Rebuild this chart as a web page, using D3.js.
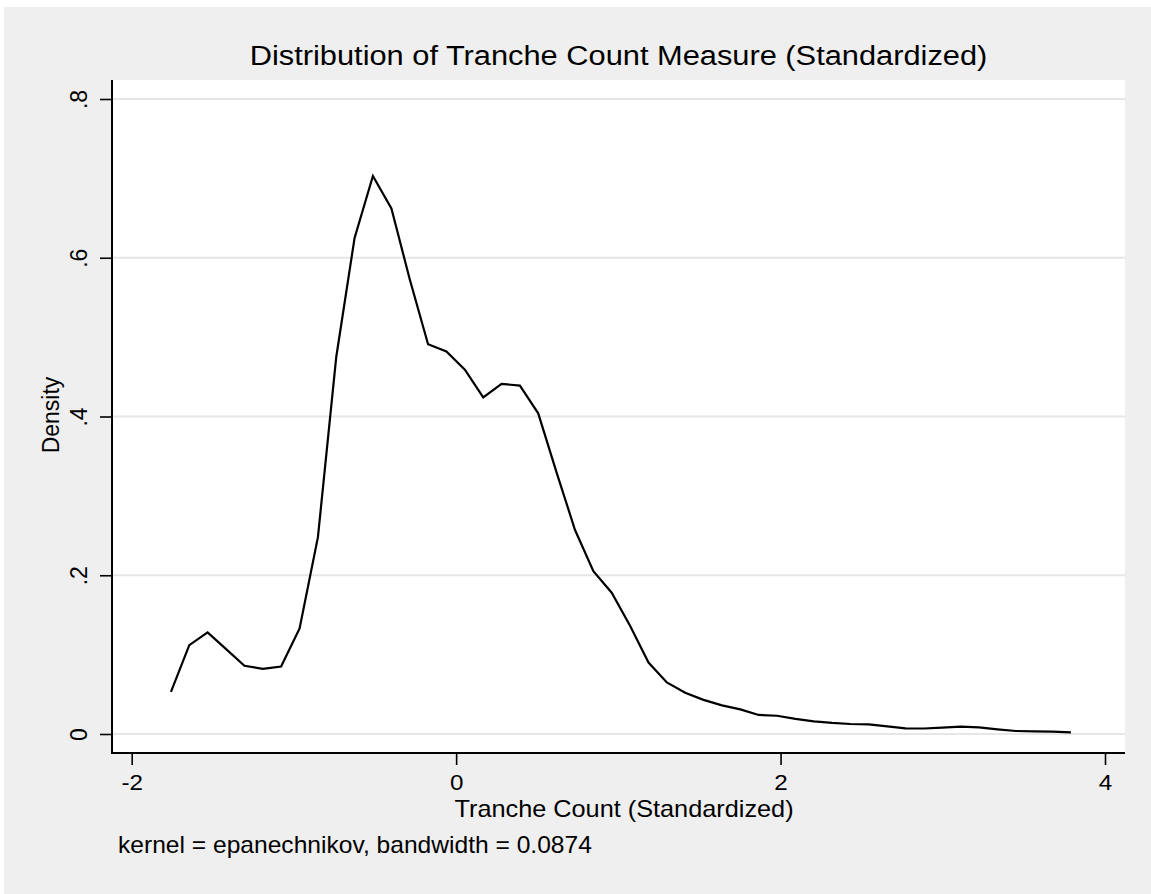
<!DOCTYPE html>
<html>
<head>
<meta charset="utf-8">
<script src="https://cdn.jsdelivr.net/npm/d3@7"></script>
<style>
  html, body { margin: 0; padding: 0; background: #ffffff; }
  svg { display: block; }
  text { font-family: Arial, "Liberation Sans", Helvetica, sans-serif; fill: #000; }
</style>
</head>
<body>
<svg id="chart" width="1151" height="894"></svg>
<script>
// ---- data ----
const gridX = [-1.758, -1.645, -1.532, -1.418, -1.305, -1.192, -1.079, -0.965, -0.852, -0.739,
               -0.626, -0.513, -0.399, -0.286, -0.173, -0.060, 0.054, 0.167, 0.280, 0.393,
               0.506, 0.620, 0.733, 0.846, 0.959, 1.073, 1.186, 1.299, 1.412, 1.525,
               1.639, 1.752, 1.865, 1.978, 2.092, 2.205, 2.318, 2.431, 2.544, 2.658,
               2.771, 2.884, 2.997, 3.111, 3.224, 3.337, 3.450, 3.563, 3.677, 3.790];
const density = [0.053, 0.112, 0.128, 0.107, 0.086, 0.082, 0.085, 0.133, 0.248, 0.475,
                 0.625, 0.703, 0.662, 0.573, 0.491, 0.482, 0.459, 0.424, 0.441, 0.439,
                 0.404, 0.329, 0.257, 0.205, 0.178, 0.136, 0.090, 0.065, 0.052, 0.043,
                 0.036, 0.031, 0.024, 0.023, 0.019, 0.016, 0.014, 0.0126, 0.0122, 0.0095,
                 0.0070, 0.0069, 0.0080, 0.0092, 0.0084, 0.0059, 0.0038, 0.0034, 0.0029, 0.0021];
const xTicks = [-2, 0, 2, 4];
const xTickLabels = ["-2", "0", "2", "4"];
const yTicks = [0, 0.2, 0.4, 0.6, 0.8];
const yTickLabels = ["0", ".2", ".4", ".6", ".8"];
const titleText = "Distribution of Tranche Count Measure (Standardized)";
const xTitle = "Tranche Count (Standardized)";
const yTitle = "Density";
const noteText = "kernel = epanechnikov, bandwidth = 0.0874";

// ---- layout ----
const W = 1151, H = 894;
const plot = { left: 112, right: 1125, top: 80, bottom: 753 };
const svg = d3.select("#chart");

const x = d3.scaleLinear().domain([-2, 4]).range([131.7, 1105]);
const y = d3.scaleLinear().domain([0, 0.8]).range([734, 99]);

// graph region
svg.append("rect").attr("x", 0).attr("y", 0).attr("width", W).attr("height", H).attr("fill", "#ffffff");
svg.append("rect").attr("x", 4).attr("y", 7).attr("width", W - 4).attr("height", H - 7).attr("fill", "#efefef");
// plot region
svg.append("rect").attr("x", plot.left).attr("y", plot.top)
  .attr("width", plot.right - plot.left).attr("height", plot.bottom - plot.top).attr("fill", "#ffffff");

// gridlines
svg.append("g").selectAll("line").data(yTicks).join("line")
  .attr("x1", plot.left).attr("x2", plot.right)
  .attr("y1", d => y(d)).attr("y2", d => y(d))
  .attr("stroke", "#e6e6e6").attr("stroke-width", 1.8);

// density line
const line = d3.line().x((d, i) => x(gridX[i])).y(d => y(d));
svg.append("path").datum(density)
  .attr("d", line)
  .attr("fill", "none").attr("stroke", "#000").attr("stroke-width", 2.2)
  .attr("stroke-linejoin", "miter");

// x axis
const xAxis = d3.axisBottom(x).tickValues(xTicks)
  .tickFormat((d, i) => xTickLabels[i]).tickSize(12).tickSizeOuter(0).tickPadding(9);
const gx = svg.append("g").attr("transform", `translate(0,${plot.bottom})`).call(xAxis);
gx.select(".domain").remove();
gx.selectAll(".tick line").attr("stroke", "#000").attr("stroke-width", 1.6);
gx.selectAll(".tick text").attr("font-size", 22).attr("fill", "#000")
  .attr("font-family", "Arial, 'Liberation Sans', sans-serif")
  .attr("transform", "scale(1.1,1)");
svg.append("line").attr("x1", plot.left - 1).attr("x2", plot.right)
  .attr("y1", plot.bottom).attr("y2", plot.bottom).attr("stroke", "#000").attr("stroke-width", 2);

// y axis
const yAxis = d3.axisLeft(y).tickValues(yTicks)
  .tickFormat((d, i) => yTickLabels[i]).tickSize(12).tickSizeOuter(0);
const gy = svg.append("g").attr("transform", `translate(${plot.left},0)`).call(yAxis);
gy.select(".domain").remove();
gy.selectAll(".tick line").attr("stroke", "#000").attr("stroke-width", 1.6);
gy.selectAll(".tick text").attr("font-size", 23).attr("fill", "#000")
  .attr("font-family", "Arial, 'Liberation Sans', sans-serif")
  .attr("x", 0).attr("dy", 0).attr("text-anchor", "middle")
  .attr("transform", "translate(-25,0) rotate(-90)");
svg.append("line").attr("x1", plot.left).attr("x2", plot.left)
  .attr("y1", plot.top).attr("y2", plot.bottom + 1).attr("stroke", "#000").attr("stroke-width", 2);

// titles
svg.append("text").attr("transform", "translate(618.5,65) scale(1.1,1)")
  .attr("text-anchor", "middle").attr("font-size", 28).text(titleText);
svg.append("text").attr("transform", "translate(624,817) scale(1.1,1)")
  .attr("text-anchor", "middle").attr("font-size", 23).text(xTitle);
svg.append("text").attr("transform", "translate(59,415) rotate(-90)")
  .attr("text-anchor", "middle").attr("font-size", 23).text(yTitle);
svg.append("text").attr("transform", "translate(118,853) scale(1.07,1)")
  .attr("text-anchor", "start").attr("font-size", 23).text(noteText);
</script>
</body>
</html>
